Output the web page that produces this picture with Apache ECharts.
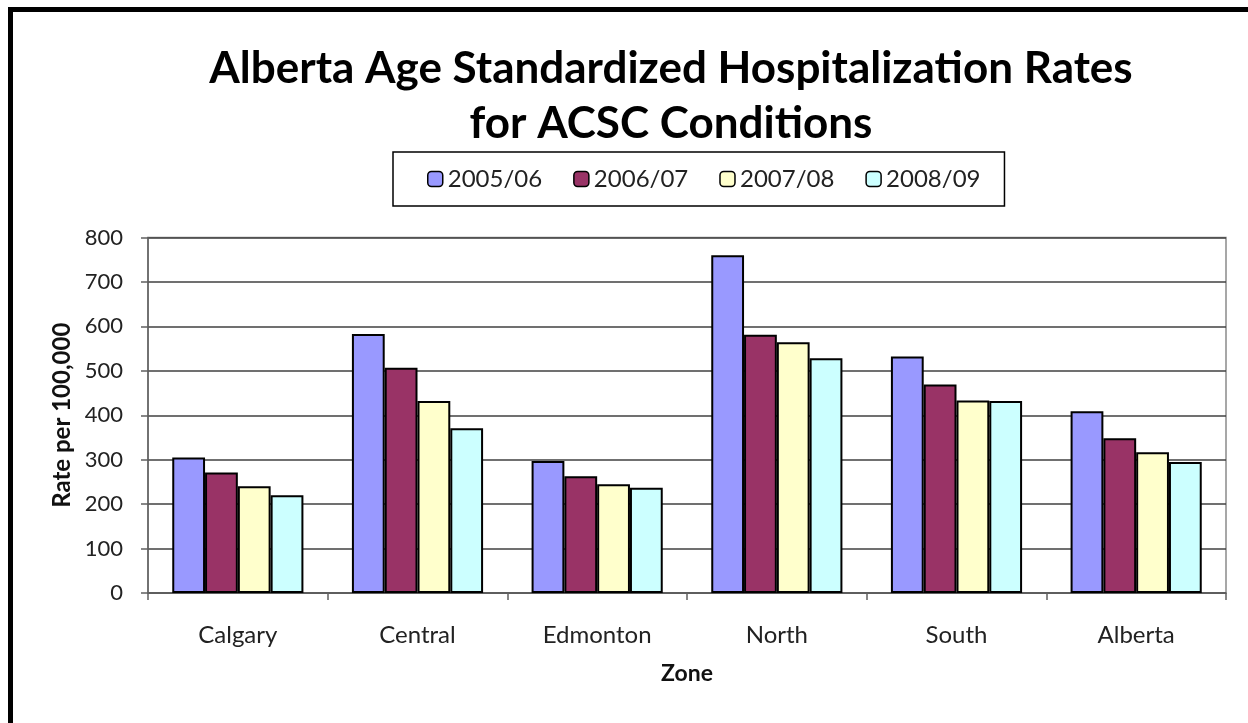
<!DOCTYPE html>
<html>
<head>
<meta charset="utf-8">
<title>Alberta ACSC hospitalization rates</title>
<script src="https://cdn.jsdelivr.net/npm/echarts@6/dist/echarts.min.js"></script>
<style>
  html, body { margin: 0; padding: 0; background: #fff; }
  #chart { width: 1248px; height: 723px; }
</style>
</head>
<body>
<div id="chart"></div>
<script>
  // zones on the x axis
  const zones = ['Calgary', 'Central', 'Edmonton', 'North', 'South', 'Alberta']
  // fiscal years (legend)
  const years = ['2005/06', '2006/07', '2007/08', '2008/09']
  // rate per 100,000, one array per year
  const rate0506 = [305, 583, 297, 760, 532, 409]
  const rate0607 = [271, 507, 263, 581, 469, 348]
  const rate0708 = [240, 432, 245, 564, 433, 317]
  const rate0809 = [220, 371, 237, 528, 432, 295]
  const yTicks = [0, 100, 200, 300, 400, 500, 600, 700, 800]

  const colors = ['#9999FF', '#993366', '#FFFFCC', '#CCFFFF']
  const font = 'Lato, "Open Sans", sans-serif'

  let chart = echarts.init(document.getElementById('chart'))
  chart.setOption({
    animation: false,
    color: colors,
    textStyle: { fontFamily: font },
    title: {
      text: 'Alberta Age Standardized Hospitalization Rates\nfor ACSC Conditions',
      left: 666,
      textAlign: 'center',
      top: 36,
      textStyle: { fontSize: 44, fontWeight: 'bold', color: '#000', lineHeight: 55, fontFamily: font }
    },
    legend: {
      data: years,
      left: 393,
      top: 152,
      padding: [15, 24, 15, 34],
      itemGap: 31,
      itemWidth: 15,
      itemHeight: 15,
      borderColor: '#000',
      borderWidth: 1.5,
      itemStyle: { borderColor: '#000', borderWidth: 1.5 },
      textStyle: { fontSize: 24, color: '#222', fontFamily: font }
    },
    grid: {
      left: 148,
      right: 22,
      top: 237.5,
      bottom: 130,
      show: true,
      borderColor: '#8a8a8a',
      borderWidth: 1.5
    },
    xAxis: {
      type: 'category',
      data: zones,
      name: 'Zone',
      nameLocation: 'middle',
      nameGap: 69,
      nameTextStyle: { fontSize: 23, fontWeight: 'bold', color: '#111', fontFamily: font },
      axisLine: { lineStyle: { color: '#606060', width: 1.5 } },
      axisTick: { show: true, length: 7, lineStyle: { color: '#606060', width: 1.5 } },
      axisLabel: { margin: 30, fontSize: 24, color: '#222', fontFamily: font }
    },
    yAxis: {
      type: 'value',
      min: yTicks[0],
      max: yTicks[yTicks.length - 1],
      interval: 100,
      name: 'Rate per 100,000',
      nameLocation: 'middle',
      nameGap: 72,
      nameTextStyle: { fontSize: 24, fontWeight: 'bold', color: '#111', fontFamily: font },
      axisLine: { show: true, lineStyle: { color: '#606060', width: 1.5 } },
      axisTick: { show: true, length: 7, lineStyle: { color: '#606060', width: 1.5 } },
      axisLabel: { margin: 25, fontSize: 22, color: '#222', fontFamily: font },
      splitLine: { lineStyle: { color: '#404040', width: 1.5 } }
    },
    graphic: [{
      type: 'rect',
      shape: { x: 10.5, y: 9.5, width: 1400, height: 900 },
      style: { fill: 'none', stroke: '#000', lineWidth: 5 },
      silent: true
    }],
    series: [
      { name: years[0], type: 'bar', data: rate0506 },
      { name: years[1], type: 'bar', data: rate0607 },
      { name: years[2], type: 'bar', data: rate0708 },
      { name: years[3], type: 'bar', data: rate0809 }
    ].map(s => Object.assign(s, {
      barGap: '0%',
      barCategoryGap: '27%',
      itemStyle: { borderColor: '#000', borderWidth: 2 }
    }))
  })
</script>
</body>
</html>
